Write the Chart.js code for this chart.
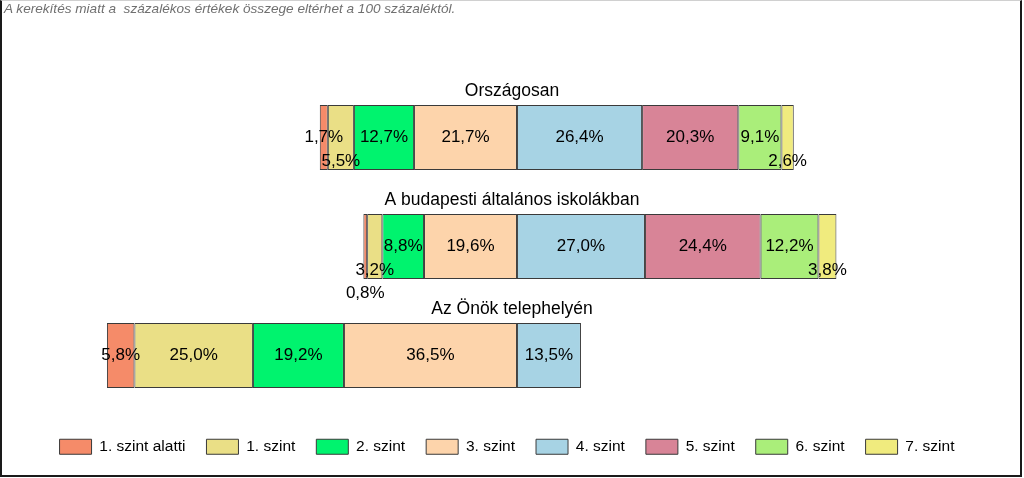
<!DOCTYPE html>
<html>
<head>
<meta charset="utf-8">
<script src="https://cdn.jsdelivr.net/npm/chart.js@4.4.1/dist/chart.umd.min.js"></script>
<style>
  html, body { margin: 0; padding: 0; background: #fff; }
  #wrap { position: relative; width: 1024px; height: 478px; overflow: hidden; }
  #frame { position: absolute; left: 0; top: 0; width: 1022px; height: 477px; box-sizing: border-box;
           border-left: 2px solid #1a1a1a; border-right: 2px solid #1a1a1a; border-bottom: 2px solid #1a1a1a;
           border-top: 1px solid #d0d0d0; pointer-events: none; }
  #note { position: absolute; left: 4px; top: 1px; font: italic 13.6px Arial, "Liberation Sans", sans-serif;
          color: #707070; white-space: pre; }
  canvas { position: absolute; left: 0; top: 0; }
</style>
</head>
<body>
<div id="wrap">
  <canvas id="c" width="1024" height="478"></canvas>
  <div id="note">A kerekítés miatt a  százalékos értékek összege eltérhet a 100 százaléktól.</div>
  <div id="frame"></div>
</div>
<script>
const categories = ['Országosan', 'A budapesti általános iskolákban', 'Az Önök telephelyén'];
const levels = ['1. szint alatti', '1. szint', '2. szint', '3. szint', '4. szint', '5. szint', '6. szint', '7. szint'];
// values per category, in level order (percent)
const orszagos  = [1.7, 5.5, 12.7, 21.7, 26.4, 20.3, 9.1, 2.6];
const budapest  = [0.8, 3.2, 8.8, 19.6, 27.0, 24.4, 12.2, 3.8];
const telephely = [5.8, 25.0, 19.2, 36.5, 13.5, null, null, null];
const levelColors = ['#F58B69', '#EADF86', '#00F36E', '#FDD4AB', '#A7D3E4', '#D88497', '#AAEE7A', '#F0EB7E'];

const rows = [orszagos, budapest, telephely];
const FONT = 'Arial, "Liberation Sans", sans-serif';

// levels 0..3 extend left of zero, 4..7 extend right
function span(vals, k) {
  const v = vals[k];
  if (v === null || v === undefined) return null;
  let s = 0;
  if (k <= 3) {
    for (let j = k + 1; j <= 3; j++) s += vals[j] || 0;
    return [-(s + v), -s];
  }
  for (let j = 4; j < k; j++) s += vals[j] || 0;
  return [s, s + v];
}

const datasets = levels.map((lab, k) => ({
  label: lab,
  data: rows.map(r => span(r, k)),
  backgroundColor: levelColors[k],
  borderColor: '#3a3a3a',
  borderWidth: 1,
  borderSkipped: false,
  grouped: false,
  categoryPercentage: 1,
  barPercentage: 0.596
}));

const fmt = v => v.toFixed(1).replace('.', ',') + '%';

const labelPlugin = {
  id: 'segLabels',
  afterDatasetsDraw(chart) {
    const ctx = chart.ctx;
    ctx.save();
    ctx.fillStyle = '#000';
    ctx.textBaseline = 'middle';
    ctx.textAlign = 'center';
    const offsets = [0, 24, 47];
    const margin = 3;
    categories.forEach((cat, i) => {
      const el0 = chart.getDatasetMeta(3).data[i];
      const p0 = el0.getProps(['x', 'y', 'base', 'height'], true);
      // title above bar
      ctx.font = '17.5px ' + FONT;
      ctx.fillText(cat, 512, p0.y - p0.height / 2 - 13.5);
      ctx.font = '17px ' + FONT;
      // labels, placed from center outward
      const placed = [[], [], []];
      [[3, 2, 1, 0], [4, 5, 6, 7]].forEach(order => {
        order.forEach(k => {
          const v = rows[i][k];
          if (v === null || v === undefined) return;
          const p = chart.getDatasetMeta(k).data[i].getProps(['x', 'y', 'base', 'height'], true);
          const cx = (p.x + p.base) / 2;
          const txt = fmt(v);
          const w = ctx.measureText(txt).width;
          const a = cx - w / 2 - margin, b = cx + w / 2 + margin;
          let r = 0;
          while (r < 2 && placed[r].some(s => a < s[1] && b > s[0])) r++;
          placed[r].push([cx - w / 2, cx + w / 2]);
          ctx.fillText(txt, cx, p.y + offsets[r]);
        });
      });
    });
    ctx.restore();
  }
};

new Chart(document.getElementById('c'), {
  type: 'bar',
  data: { labels: categories, datasets },
  options: {
    indexAxis: 'y',
    responsive: false,
    animation: false,
    layout: { padding: { left: 33, right: 43, top: 83, bottom: 13.5 } },
    scales: {
      x: { min: -102.1, max: 97.9, display: false, grid: { display: false } },
      y: { display: false, grid: { display: false } }
    },
    plugins: {
      tooltip: { enabled: false },
      legend: {
        position: 'bottom',
        title: { display: true, text: '', padding: 0, font: { size: 8, lineHeight: 1 } },
        labels: {
          boxWidth: 32, boxHeight: 15, padding: 21,
          color: '#000',
          font: { family: FONT, size: 15.5 }
        }
      }
    }
  },
  plugins: [labelPlugin]
});
</script>
</body>
</html>
